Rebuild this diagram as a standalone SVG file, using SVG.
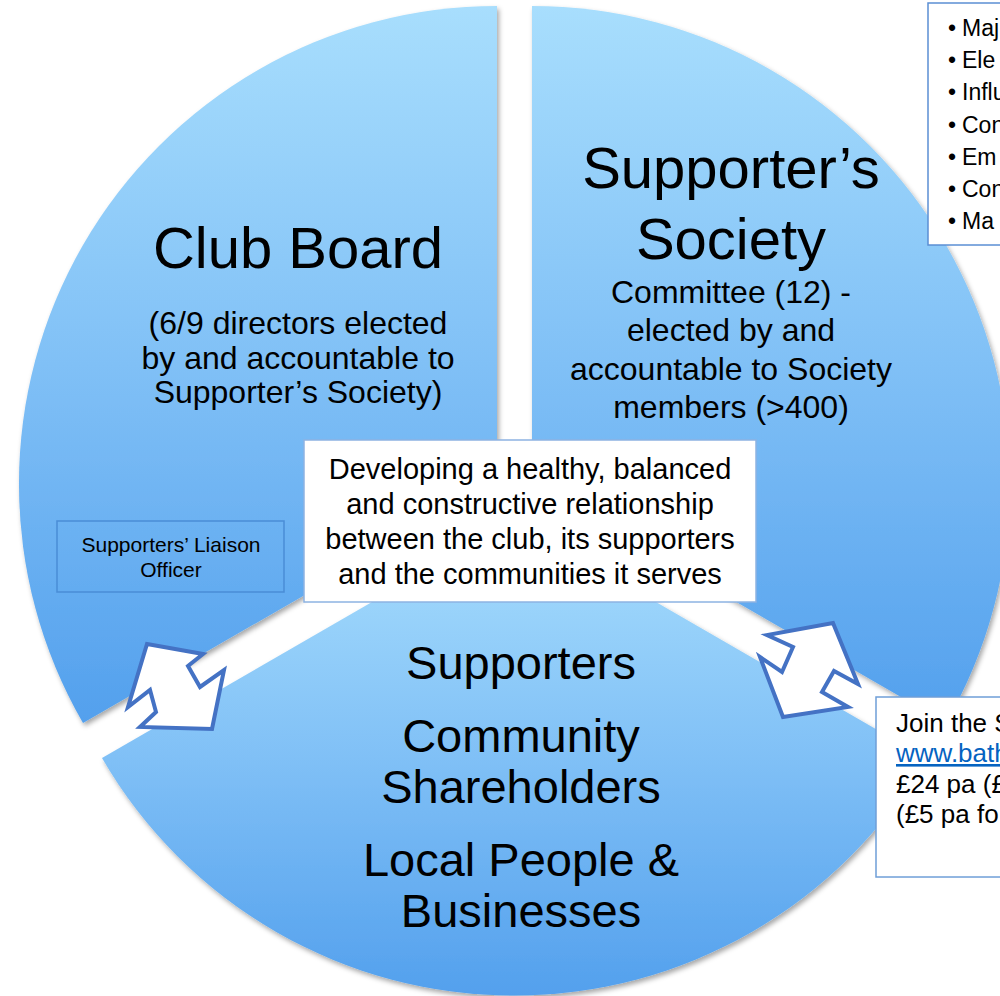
<svg xmlns="http://www.w3.org/2000/svg" width="1000" height="996" viewBox="0 0 1000 996">
<defs>
<linearGradient id="segGrad" x1="0" y1="0" x2="0" y2="1">
<stop offset="0" stop-color="#a8defd"/>
<stop offset="0.5" stop-color="#80c0f6"/>
<stop offset="1" stop-color="#53a0ed"/>
</linearGradient>
<filter id="shadow" x="-10%" y="-10%" width="120%" height="120%">
<feDropShadow dx="2" dy="3" stdDeviation="2.5" flood-color="#000" flood-opacity="0.35"/>
</filter>
<style>
text { font-family: "Liberation Sans", Arial, sans-serif; fill: #000; }
.seg { fill: url(#segGrad); filter: url(#shadow); }
.title { font-size: 58px; text-anchor: middle; }
.sub { font-size: 32px; text-anchor: middle; }
.big { font-size: 47px; text-anchor: middle; }
.mid { font-size: 29px; text-anchor: middle; }
.small { font-size: 21px; text-anchor: middle; }
.bul { font-size: 23px; }
.join { font-size: 26px; }
.link { fill: #0563c1; text-decoration: underline; }
.arrow { fill: #fff; stroke: #4472c4; stroke-width: 4; stroke-linejoin: miter; }
</style>
</defs>
<rect width="1000" height="996" fill="#fff"/>

<g id="club-board">
<path class="seg" d="M497,484 L497,6 A478,478 0 0 0 83,723 Z"/>
<text class="title" x="298" y="268">Club Board</text>
<text class="sub" x="298" y="334">(6/9 directors elected</text>
<text class="sub" x="298" y="369">by and accountable to</text>
<text class="sub" x="298" y="403">Supporter’s Society)</text>
</g>

<g id="supporters-society">
<path class="seg" d="M532,484 L532,6 A478,478 0 0 1 946,723 Z"/>
<text class="title" x="731" y="188">Supporter’s</text>
<text class="title" x="731" y="259">Society</text>
<text class="sub" x="731" y="303">Committee (12) -</text>
<text class="sub" x="731" y="341">elected by and</text>
<text class="sub" x="731" y="380">accountable to Society</text>
<text class="sub" x="731" y="418">members (&gt;400)</text>
</g>

<g id="community">
<path class="seg" d="M514,520 L926,758 A476,476 0 0 1 102,758 Z"/>
<text class="big" x="521" y="679">Supporters</text>
<text class="big" x="521" y="752">Community</text>
<text class="big" x="521" y="803">Shareholders</text>
<text class="big" x="521" y="876">Local People &amp;</text>
<text class="big" x="521" y="927">Businesses</text>
</g>

<g id="liaison-officer">
<rect x="57" y="521" width="227" height="71" fill="none" stroke="#4a8dd6" stroke-width="1.5"/>
<text class="small" x="171" y="552">Supporters’ Liaison</text>
<text class="small" x="171" y="577">Officer</text>
</g>

<g id="relationship">
<rect x="304" y="440" width="452" height="162" fill="#fff" stroke="#8db3e2" stroke-width="1.5"/>
<text class="mid" x="530" y="479">Developing a healthy, balanced</text>
<text class="mid" x="530" y="514">and constructive relationship</text>
<text class="mid" x="530" y="549">between the club, its supporters</text>
<text class="mid" x="530" y="584">and the communities it serves</text>
</g>

<g id="society-roles">
<rect x="928" y="3" width="80" height="242" fill="#fff" stroke="#5b8fd4" stroke-width="1.5"/>
<text class="bul" x="948" y="36">•<tspan x="962">Maj</tspan></text>
<text class="bul" x="948" y="68">•<tspan x="962">Ele</tspan></text>
<text class="bul" x="948" y="100">•<tspan x="962">Influ</tspan></text>
<text class="bul" x="948" y="133">•<tspan x="962">Con</tspan></text>
<text class="bul" x="948" y="165">•<tspan x="962">Em</tspan></text>
<text class="bul" x="948" y="197">•<tspan x="962">Con</tspan></text>
<text class="bul" x="948" y="229">•<tspan x="962">Ma</tspan></text>
</g>

<g id="join-society">
<rect x="876" y="697" width="132" height="180" fill="#fff" stroke="#6f9fd8" stroke-width="1.5"/>
<text class="join" x="896" y="732">Join the S</text>
<text class="join link" x="896" y="762">www.bath</text>
<text class="join" x="896" y="793">£24 pa (£</text>
<text class="join" x="896" y="823">(£5 pa fo</text>
</g>

<g id="connectors">
<polygon class="arrow" points="147,644 203,654 188,666 200,687 224,670 212,729 140,727 156,712 150,690 128,707"/>
<polygon class="arrow" points="833,623 858,684 834,671 822,692 848,707 783,717 760,657 782,672 793,647 767,635"/>
</g>
</svg>
